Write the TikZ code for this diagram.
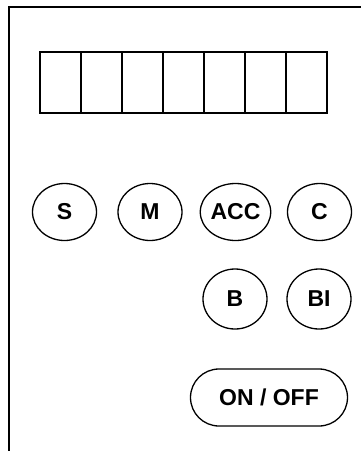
\documentclass[tikz,border=0pt]{standalone}
\usepackage{fontspec}
\setmainfont{Liberation Sans}
\usetikzlibrary{shapes.geometric}
\begin{document}
\begin{tikzpicture}[x=1pt,y=-1pt,
  frameline/.style={line width=2pt},
  cell/.style={draw,line width=2pt,minimum width=41pt,minimum height=61pt,inner sep=0pt},
  key/.style={draw,ellipse,line width=1.3pt,minimum width=64pt,minimum height=57pt,inner sep=0pt,font=\fontsize{23}{23}\selectfont\bfseries},
  pill/.style={draw,rounded corners=28.5pt,line width=1.3pt,minimum width=157pt,minimum height=57pt,inner sep=0pt,font=\fontsize{23}{23}\selectfont\bfseries}]
\useasboundingbox (0,0) rectangle (361,451);
\coordinate (tl) at (9,7);
\coordinate (tr) at (361,7);
\coordinate (bl) at (9,451);
\draw[frameline] (tr) -- (tl) -- (bl);
\foreach \i in {0,...,6} {
  \node[cell] (d\i) at ({60.5+41*\i},82) {};
}
\node[key] (s) at (64.5,212) {S};
\node[key] (m) at (150,212) {M};
\node[key] (acc) at (235.5,212) {ACC};
\node[key] (c) at (319.5,212) {C};
\node[key,minimum height=60pt] (b) at (235,299) {B};
\node[key,minimum height=60pt] (bi) at (319,299) {BI};
\node[pill] (onoff) at (269,397.5) {ON / OFF};
\end{tikzpicture}
\end{document}
